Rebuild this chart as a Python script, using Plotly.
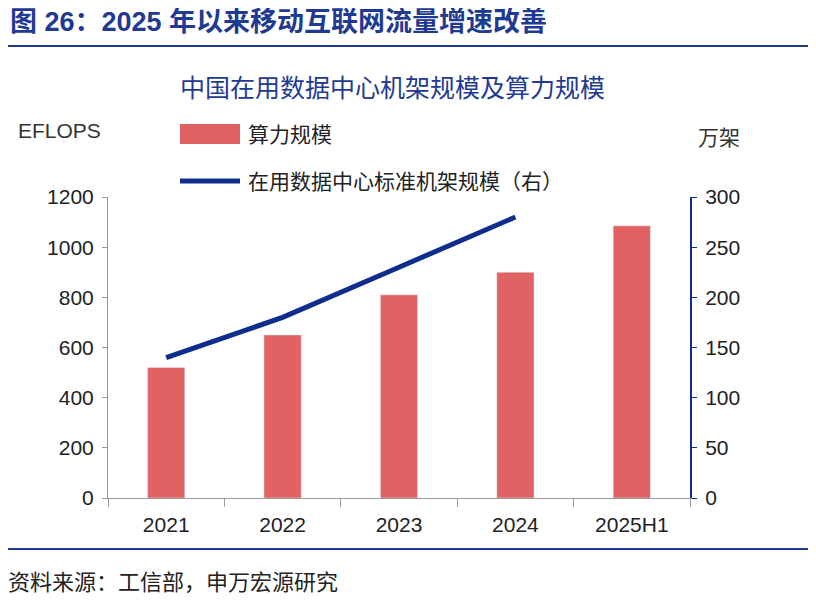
import plotly.graph_objects as go

years = ["2021", "2022", "2023", "2024", "2025H1"]
compute = [520, 650, 810, 900, 1085]
line_years = ["2021", "2022", "2023", "2024"]
racks = [140, 180, 230, 280]

W, H = 816, 604
OFF = 8
L, R, T, B = 108 - OFF, 816 - 690 + OFF, 197 - OFF, 106 + OFF
pw, ph = W - L - R, H - T - B
def px(x): return (x - OFF - L) / pw
def py(y): return (H - B - (y - OFF)) / ph

BLUE = "#0E2D8C"
RED = "#E06262"
F = "Liberation Sans, Noto Sans CJK SC"

fig = go.Figure()
fig.add_bar(x=years, y=compute, marker_color=RED, width=0.32, showlegend=False)
fig.add_scatter(x=line_years, y=racks, yaxis="y2", mode="lines",
                line=dict(color=BLUE, width=5), showlegend=False)

ann = [
    dict(x=px(8), y=py(22), text="<b>图 26：2025 年以来移动互联网流量增速改善</b>", xanchor="left",
         font=dict(size=27, color="#1F3A93")),
    dict(x=px(392), y=py(88), text="中国在用数据中心机架规模及算力规模", xanchor="center",
         font=dict(size=25, color="#1F3A93")),
    dict(x=px(16), y=py(130), text="EFLOPS", xanchor="left", font=dict(size=21, color="#333")),
    dict(x=px(696), y=py(138), text="万架", xanchor="left", font=dict(size=21, color="#333")),
    dict(x=px(246), y=py(134), text="算力规模", xanchor="left", font=dict(size=21, color="#222")),
    dict(x=px(246), y=py(181), text="在用数据中心标准机架规模（右）", xanchor="left", font=dict(size=21, color="#222")),
    dict(x=px(6), y=py(582), text="资料来源：工信部，申万宏源研究", xanchor="left", font=dict(size=22, color="#222")),
]
for a in ann:
    a.update(xref="paper", yref="paper", showarrow=False, yanchor="middle")

shapes = [
    dict(type="line", x0=px(6), x1=px(810), y0=py(46), y1=py(46), line=dict(color="#1F3A93", width=2)),
    dict(type="rect", x0=px(180), x1=px(240), y0=py(124), y1=py(144), fillcolor=RED, line_width=0),
    dict(type="line", x0=px(180), x1=px(240), y0=py(181), y1=py(181), line=dict(color=BLUE, width=5)),
    dict(type="line", x0=px(6), x1=px(810), y0=py(549), y1=py(549), line=dict(color="#1F3A93", width=2)),
]
for s in shapes:
    s.update(xref="paper", yref="paper")

fig.update_layout(
    width=W, height=H, margin=dict(l=L, r=R, t=T, b=B),
    plot_bgcolor="white", paper_bgcolor="white",
    font=dict(family=F, size=21, color="#222"),
    annotations=ann, shapes=shapes,
    xaxis=dict(type="category", showline=True, linecolor="#999", ticks="outside",
               tickson="boundaries", ticklen=8, tickcolor="#999", showgrid=False,
               ticklabelstandoff=8),
    yaxis=dict(range=[0, 1200], dtick=200, showline=True, linecolor="#999", ticks="outside",
               tickcolor="#999", showgrid=False, zeroline=False, ticklabelstandoff=4),
    yaxis2=dict(range=[0, 300], dtick=50, overlaying="y", side="right", showline=True,
                linecolor=BLUE, linewidth=2, ticks="outside", tickcolor=BLUE, showgrid=False,
                zeroline=False, ticklabelstandoff=4),
)
fig.write_html("out.html")
